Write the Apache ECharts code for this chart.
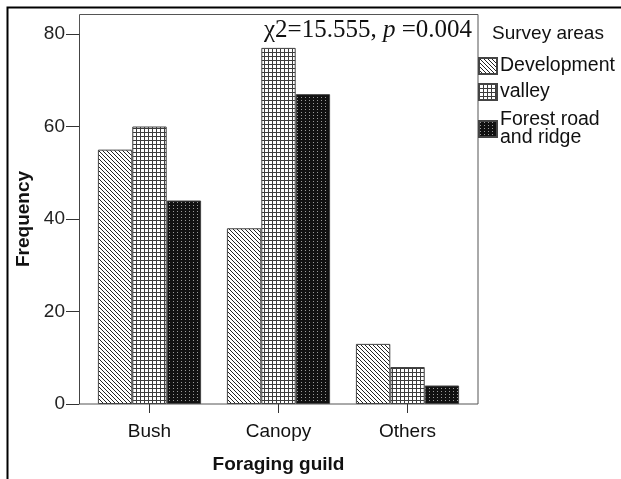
<!DOCTYPE html>
<html>
<head>
<meta charset="utf-8">
<style>
  html, body { margin: 0; padding: 0; background: #fff; }
  #chart { width: 621px; height: 479px; }
</style>
<script src="https://cdn.jsdelivr.net/npm/echarts@6/dist/echarts.min.js"></script>
</head>
<body>
<div id="chart"></div>
<script>
// Foraging guild frequencies by survey area
const categories = ['Bush', 'Canopy', 'Others'];
const seriesNames = ['Development', 'valley', 'Forest road\nand ridge'];
const development = [55, 38, 13];
const valley = [60, 77, 8];
const forestRoad = [44, 67, 4];
const yTicks = [0, 20, 40, 60, 80];

// Small tiles used as repeating fills for the bars
function tile(w, h, bg, fg, pixels) {
  const c = document.createElement('canvas');
  c.width = w; c.height = h;
  const ctx = c.getContext('2d');
  ctx.fillStyle = bg; ctx.fillRect(0, 0, w, h);
  ctx.fillStyle = fg;
  pixels.forEach(p => ctx.fillRect(p[0], p[1], 1, 1));
  return c;
}
const hatch = tile(4, 4, '#ffffff', '#222222', [[0,0],[1,1],[2,2],[3,3]]);
const grid = tile(4, 4, '#ffffff', '#3c3c3c', [[0,0],[1,0],[2,0],[3,0],[0,1],[0,2],[0,3]]);
const dots = tile(4, 3, '#111111', '#9a9a9a', [[1,1]]);
const fills = [hatch, grid, dots];
const values = [development, valley, forestRoad];

const chart = echarts.init(document.getElementById('chart'), null, { renderer: 'canvas' });

const option = {
  animation: false,
  backgroundColor: '#ffffff',
  title: [
    {
      text: '{a|χ2=15.555, }{b|p}{a| =0.004}',
      right: 144,
      top: 13,
      textStyle: {
        rich: {
          a: { fontFamily: 'Liberation Serif', fontWeight: 'normal', fontSize: 25, color: '#111' },
          b: { fontFamily: 'Liberation Serif', fontWeight: 'normal', fontStyle: 'italic', fontSize: 25, color: '#111' }
        }
      }
    },
    {
      text: 'Survey areas',
      left: 487,
      top: 19,
      textStyle: { fontFamily: 'Liberation Sans', fontWeight: 'normal', fontSize: 19, color: '#111' }
    }
  ],
  legend: {
    orient: 'vertical',
    left: 478,
    top: 56,
    padding: 0,
    itemWidth: 18,
    itemHeight: 16,
    itemGap: 6,
    icon: 'rect',
    textStyle: { fontFamily: 'Liberation Sans', fontSize: 19.5, color: '#111', lineHeight: 18, padding: [0, 0, 0, -2] },
    data: seriesNames.map((n, i) => i === 2
      ? { name: n, textStyle: { padding: [6, 0, 0, -2] } }
      : { name: n })
  },
  grid: { left: 85, right: 149, top: 34, bottom: 75, outerBoundsMode: 'none' },
  xAxis: {
    type: 'category',
    data: categories,
    name: 'Foraging guild',
    nameLocation: 'middle',
    nameGap: 51,
    nameTextStyle: { fontFamily: 'Liberation Sans', fontWeight: 'bold', fontSize: 19, color: '#111' },
    axisLine: { show: false },
    axisTick: { show: true, alignWithLabel: true, length: 9, lineStyle: { color: '#333', width: 1 } },
    axisLabel: { margin: 18, fontFamily: 'Liberation Sans', fontSize: 19, color: '#111' }
  },
  yAxis: {
    type: 'value',
    min: 0,
    max: 80,
    interval: 20,
    offset: 6,
    name: 'Frequency',
    nameLocation: 'middle',
    nameGap: 42,
    nameRotate: 90,
    nameTextStyle: { fontFamily: 'Liberation Sans', fontWeight: 'bold', fontSize: 19, color: '#111' },
    axisLine: { show: true, lineStyle: { color: '#444', width: 1 } },
    axisTick: { show: true, length: 13, lineStyle: { color: '#333', width: 1 } },
    axisLabel: {
      margin: 14,
      fontFamily: 'Liberation Sans',
      fontSize: 19,
      color: '#222',
      formatter: v => (yTicks.includes(v) ? String(v) : '')
    },
    splitLine: { show: false }
  },
  series: seriesNames.map((n, i) => ({
    name: n,
    type: 'bar',
    data: values[i],
    barGap: '0%',
    barCategoryGap: '20%',
    itemStyle: {
      color: { image: fills[i], repeat: 'repeat' },
      borderColor: '#444',
      borderWidth: 1
    }
  })),
  graphic: [
    {
      type: 'rect',
      shape: { x: 79.5, y: 14.5, width: 398.5, height: 389.5 },
      style: { fill: 'none', stroke: '#555', lineWidth: 1 },
      silent: true,
      z: 0
    },
    {
      type: 'rect',
      shape: { x: 7.5, y: 7.5, width: 700, height: 600 },
      style: { fill: 'none', stroke: '#000', lineWidth: 2 },
      silent: true
    }
  ]
};

chart.setOption(option);
</script>
</body>
</html>
